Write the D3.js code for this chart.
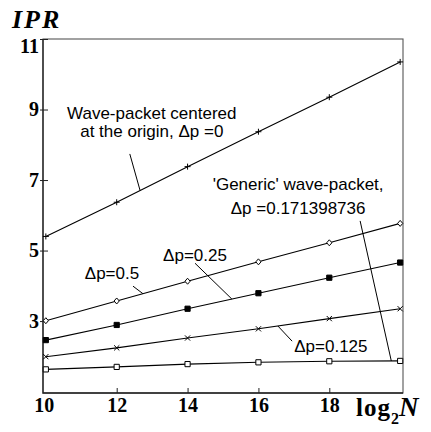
<!DOCTYPE html>
<html>
<head>
<meta charset="utf-8">
<script src="https://cdn.jsdelivr.net/npm/d3@7"></script>
<style>
  html, body { margin: 0; padding: 0; background: #fff; }
  svg { display: block; }
</style>
</head>
<body>
<svg id="chart" width="431" height="432"></svg>
<script>
// log2 N on the horizontal axis
const xValues = [10, 12, 14, 16, 18, 20];

// IPR for each wave-packet width
const iprCentered = [5.40, 6.37, 7.38, 8.37, 9.35, 10.35];   // Δp = 0
const iprDp05     = [3.01, 3.57, 4.13, 4.68, 5.22, 5.77];    // Δp = 0.5
const iprDp025    = [2.46, 2.89, 3.35, 3.79, 4.23, 4.66];    // Δp = 0.25
const iprDp0125   = [1.99, 2.24, 2.52, 2.78, 3.07, 3.35];    // Δp = 0.125
const iprGeneric  = [1.63, 1.70, 1.78, 1.83, 1.86, 1.87];    // Δp = 0.171398736

const xTicks = [10, 12, 14, 16, 18];
const yTicks = [3, 5, 7, 9, 11];

const centeredLabel = ["Wave-packet centered", "at the origin, \u0394p =0"];
const genericLabel  = ["'Generic' wave-packet,", "\u0394p =0.171398736"];
const dpLabels      = ["\u0394p=0.5", "\u0394p=0.25", "\u0394p=0.125"];

const svg = d3.select("#chart");
const plotLeft = 43, plotRight = 403, plotTop = 39, plotBottom = 393;

const x = d3.scaleLinear().domain([9.92, 20.08]).range([plotLeft, plotRight]);
const y = d3.scaleLinear().domain([0.96, 11]).range([plotBottom, plotTop]);

const sansFont = "'Liberation Sans', Arial, sans-serif";
const serifFont = "'Liberation Serif', 'Times New Roman', serif";

// frame
svg.append("rect")
  .attr("x", plotLeft).attr("y", plotTop)
  .attr("width", plotRight - plotLeft).attr("height", plotBottom - plotTop)
  .attr("fill", "none").attr("stroke", "#555").attr("stroke-width", 1.1);
svg.append("path")
  .attr("d", `M${plotLeft},${plotTop}V${plotBottom}H${plotRight}`)
  .attr("fill", "none").attr("stroke", "#222").attr("stroke-width", 1.3);

// bottom axis
const gx = svg.append("g")
  .attr("transform", `translate(0,${plotBottom})`)
  .call(d3.axisBottom(x).tickValues(xTicks).tickFormat(d3.format("d"))
    .tickSizeInner(-5).tickSizeOuter(0).tickPadding(5));
gx.select(".domain").remove();
gx.selectAll(".tick line").attr("stroke", "#222");
gx.selectAll(".tick").filter(d => d === 10).select("line").remove();
gx.selectAll(".tick").filter(d => d === 10).select("text").attr("dx", -2);
gx.selectAll("text")
  .attr("font-family", serifFont).attr("font-weight", "bold")
  .attr("font-size", 20).attr("fill", "#000");

// left axis
const gy = svg.append("g")
  .attr("transform", `translate(${plotLeft},0)`)
  .call(d3.axisLeft(y).tickValues(yTicks).tickFormat(d3.format("d"))
    .tickSizeInner(-5).tickSizeOuter(0).tickPadding(4));
gy.select(".domain").remove();
gy.selectAll(".tick line").attr("x1", -3).attr("stroke", "#222");
gy.selectAll("text")
  .attr("font-family", serifFont).attr("font-weight", "bold")
  .attr("font-size", 20).attr("fill", "#000");
gy.selectAll(".tick").filter(d => d === 11).select("text").attr("dy", "0.65em");

// axis titles
svg.append("text")
  .attr("x", 12).attr("y", 28)
  .attr("font-family", serifFont).attr("font-weight", "bold").attr("font-style", "italic")
  .attr("font-size", 26).attr("letter-spacing", 2)
  .text("IPR");

const xTitle = svg.append("text")
  .attr("x", 356).attr("y", 416)
  .attr("font-family", serifFont).attr("font-weight", "bold")
  .attr("font-size", 25);
xTitle.append("tspan").attr("letter-spacing", 1).text("log");
xTitle.append("tspan").attr("font-size", 16).attr("dy", 8).text("2");
xTitle.append("tspan").attr("font-style", "italic").attr("font-size", 27).attr("dy", -8).text("N");

// series
const line = d3.line().x((d, i) => x(xValues[i])).y(d => y(d));

const markers = {
  plus:    "M-3,0H3M0,-3V3",
  diamond: "M0,-3L2.6,0L0,3L-2.6,0Z",
  square:  "M-2.6,-2.6H2.6V2.6H-2.6Z",
  cross:   "M-2.6,-2.6L2.6,2.6M-2.6,2.6L2.6,-2.6"
};

const series = [
  { values: iprCentered, marker: markers.plus,    fill: "none" },
  { values: iprDp05,     marker: markers.diamond, fill: "#fff" },
  { values: iprDp025,    marker: markers.square,  fill: "#000" },
  { values: iprDp0125,   marker: markers.cross,   fill: "none" },
  { values: iprGeneric,  marker: markers.square,  fill: "#fff" }
];

series.forEach(s => {
  svg.append("path")
    .attr("d", line(s.values))
    .attr("fill", "none").attr("stroke", "#000").attr("stroke-width", 1.1);
  svg.selectAll(null)
    .data(s.values)
    .join("path")
    .attr("transform", (d, i) => `translate(${x(xValues[i])},${y(d)})`)
    .attr("d", s.marker)
    .attr("fill", s.fill).attr("stroke", "#000").attr("stroke-width", 1);
});

// value of a series at an arbitrary log2 N, along its polyline
function seriesAt(values, xv) {
  for (let i = 0; i < xValues.length - 1; i++) {
    if (xv <= xValues[i + 1]) {
      const t = (xv - xValues[i]) / (xValues[i + 1] - xValues[i]);
      return values[i] + t * (values[i + 1] - values[i]);
    }
  }
  return values[values.length - 1];
}

// annotations: text placed in data units, leader lines ending on the curve
function label(lines, xv, yv, anchor, spacing) {
  const t = svg.append("text")
    .attr("font-family", sansFont).attr("font-size", 17)
    .attr("text-anchor", anchor).attr("fill", "#000");
  lines.forEach((s, i) => {
    t.append("tspan").attr("x", x(xv)).attr("y", y(yv) + i * spacing).text(s);
  });
}
function leader(x1, y1, x2, values) {
  svg.append("line")
    .attr("x1", x(x1)).attr("y1", y(y1))
    .attr("x2", x(x2)).attr("y2", y(seriesAt(values, x2)))
    .attr("stroke", "#000").attr("stroke-width", 1);
}

label(centeredLabel, 12.99, 8.745, "middle", 18.5);
leader(12.37, 7.74, 12.66, iprCentered);

label(genericLabel, 17.12, 6.72, "middle", 24);
leader(18.87, 5.84, 19.75, iprGeneric);

label([dpLabels[0]], 11.10, 4.19, "start", 0);
leader(12.46, 3.99, 12.74, iprDp05);

label([dpLabels[1]], 13.31, 4.70, "start", 0);
leader(14.21, 4.64, 15.25, iprDp025);

label([dpLabels[2]], 17.01, 2.12, "start", 0);
leader(16.95, 2.43, 16.55, iprDp0125);
</script>
</body>
</html>
